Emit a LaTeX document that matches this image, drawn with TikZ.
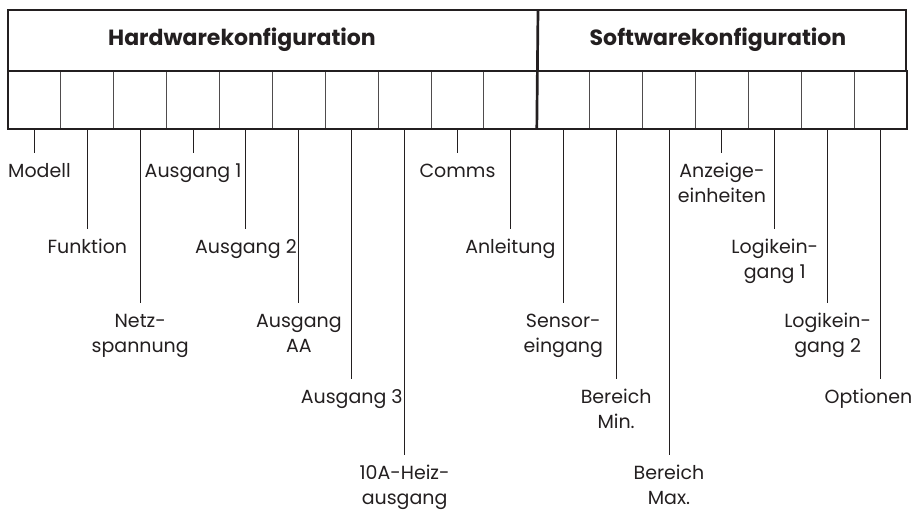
\documentclass[tikz,border=0pt]{standalone}
\usepackage{fontspec}
\setmainfont{Poppins}
\usetikzlibrary{positioning}
\definecolor{inkgray}{HTML}{231F20}

\begin{document}
\begin{tikzpicture}[
    x=1pt, y=-1pt,
    headbox/.style={rectangle,draw=inkgray,line width=1.2pt,minimum height=61pt,inner sep=0pt,outer sep=0pt},
    cell/.style={rectangle,draw=inkgray!80,line width=0.9pt,minimum width=52.88pt,minimum height=58pt,inner sep=0pt,outer sep=0pt},
    heavy/.style={draw=inkgray,line width=2.7pt},
    title/.style={font=\fontsize{22}{25}\selectfont\bfseries,text=inkgray},
    lbl/.style={align=center,inner sep=0pt,outer ysep=7pt,font=\fontsize{19}{25}\selectfont,text=inkgray,execute at begin node=\strut},
    leader/.style={draw=inkgray,line width=1pt}
]
\useasboundingbox (0,0) rectangle (915,513);

% header boxes
\node[headbox, minimum width=530pt, anchor=north west] (hw) at (8,10) {};
\node[headbox, minimum width=368pt, right=0pt of hw] (sw) {};
\node[title] (hwtitle) at (242,40) {Hardwarekonfiguration};
\node[title] (swtitle) at (718,40) {Softwarekonfiguration};

% code cells
\node[cell, anchor=north west] (c1) at (8,71) {};
\node[cell, right=0pt of c1] (c2) {};
\node[cell, right=0pt of c2] (c3) {};
\node[cell, right=0pt of c3] (c4) {};
\node[cell, right=0pt of c4] (c5) {};
\node[cell, right=0pt of c5] (c6) {};
\node[cell, right=0pt of c6] (c7) {};
\node[cell, right=0pt of c7] (c8) {};
\node[cell, right=0pt of c8] (c9) {};
\node[cell, right=0pt of c9] (c10) {};
\node[cell, right=0pt of c10] (c11) {};
\node[cell, right=0pt of c11] (c12) {};
\node[cell, right=0pt of c12] (c13) {};
\node[cell, right=0pt of c13] (c14) {};
\node[cell, right=0pt of c14] (c15) {};
\node[cell, right=0pt of c15] (c16) {};
\node[cell, right=0pt of c16] (c17) {};

\draw[heavy] (c1.north west) rectangle (c17.south east);
\draw[heavy] (sw.north west) -- (c11.south west);

% labels (\strut keeps the first line of two-line labels level with the others)
\node[lbl, below=24pt of c1, xshift=5pt] (modell) {Modell};
\node[lbl, below=100pt of c2] (funktion) {Funktion};
\node[lbl, below=174pt of c3] (netz) {\strut Netz-\\spannung};
\node[lbl, below=24pt of c4] (aus1) {Ausgang 1};
\node[lbl, below=100pt of c5] (aus2) {Ausgang 2};
\node[lbl, below=174pt of c6] (ausaa) {\strut Ausgang\\AA};
\node[lbl, below=250pt of c7] (aus3) {Ausgang 3};
\node[lbl, below=326pt of c8] (heiz) {\strut 10A-Heiz-\\ausgang};
\node[lbl, below=24pt of c9] (comms) {Comms};
\node[lbl, below=100pt of c10] (anleitung) {Anleitung};
\node[lbl, below=174pt of c11] (sensor) {\strut Sensor-\\eingang};
\node[lbl, below=250pt of c12] (bermin) {\strut Bereich\\Min.};
\node[lbl, below=326pt of c13] (bermax) {\strut Bereich\\Max.};
\node[lbl, below=24pt of c14] (anzeige) {\strut Anzeige-\\einheiten};
\node[lbl, below=100pt of c15] (logik1) {\strut Logikein-\\gang 1};
\node[lbl, below=174pt of c16] (logik2) {\strut Logikein-\\gang 2};
\node[lbl, below=250pt of c17, xshift=-12pt] (optionen) {Optionen};

% leader lines
\draw[leader] (c1.south) -- (c1.south |- modell.north);
\draw[leader] (c2.south) -- (funktion);
\draw[leader] (c3.south) -- (netz);
\draw[leader] (c4.south) -- (aus1);
\draw[leader] (c5.south) -- (aus2);
\draw[leader] (c6.south) -- (ausaa);
\draw[leader] (c7.south) -- (aus3);
\draw[leader] (c8.south) -- (heiz);
\draw[leader] (c9.south) -- (comms);
\draw[leader] (c10.south) -- (anleitung);
\draw[leader] (c11.south) -- (sensor);
\draw[leader] (c12.south) -- (bermin);
\draw[leader] (c13.south) -- (bermax);
\draw[leader] (c14.south) -- (anzeige);
\draw[leader] (c15.south) -- (logik1);
\draw[leader] (c16.south) -- (logik2);
\draw[leader] (c17.south) -- (c17.south |- optionen.north);

\end{tikzpicture}
\end{document}
